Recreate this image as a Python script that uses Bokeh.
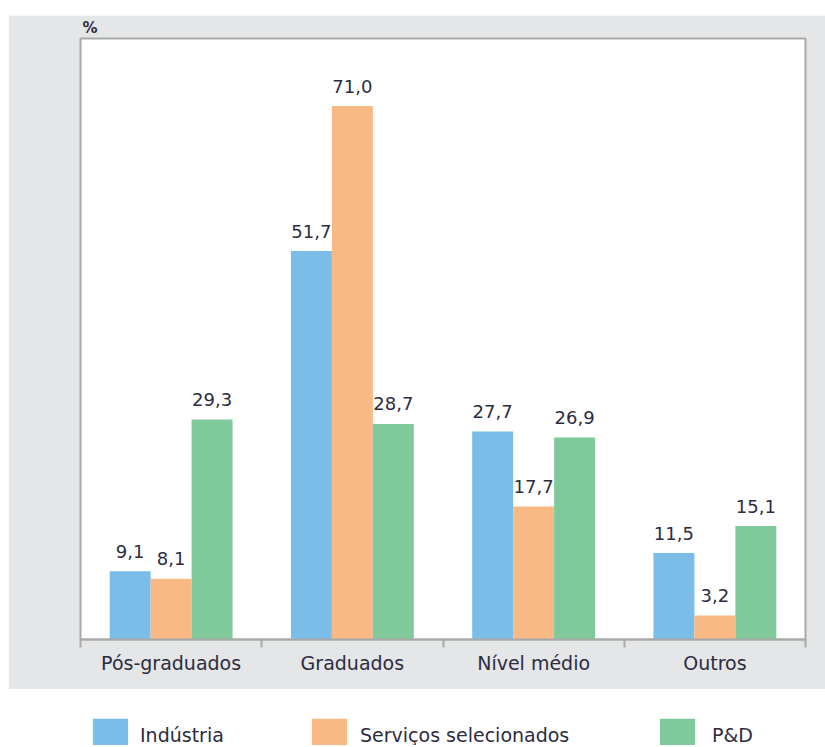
from bokeh.plotting import figure
from bokeh.models import (ColumnDataSource, Range1d, FixedTicker, Legend,
                          LegendItem)
from bokeh.layouts import column
from bokeh.transform import dodge
from bokeh.embed import file_html
from bokeh.resources import INLINE

# ---- data ----
categories = ["Pós-graduados", "Graduados", "Nível médio", "Outros"]
series_names = ["Indústria", "Serviços selecionados", "P&D"]
industria = [9.1, 51.7, 27.7, 11.5]
servicos = [8.1, 71.0, 17.7, 3.2]
pd_vals = [29.3, 28.7, 26.9, 15.1]
y_max = 80

colors = ["#79bde8", "#f8b985", "#80c99b"]
FONT = "DejaVu Sans"
TXT = "#2c2c40"

def fmt(v):
    return f"{v:.1f}".replace(".", ",")

centers = [i + 0.5 for i in range(len(categories))]
src = ColumnDataSource(dict(
    x=centers,
    ind=industria, ser=servicos, pdv=pd_vals,
    ind_l=[fmt(v) for v in industria],
    ser_l=[fmt(v) for v in servicos],
    pdv_l=[fmt(v) for v in pd_vals],
))

p = figure(width=817, height=674, output_backend="svg", toolbar_location=None,
           x_range=Range1d(0, len(categories)), y_range=Range1d(0, y_max),
           min_border_left=72, min_border_right=20, min_border_top=23,
           min_border_bottom=50)
p.background_fill_color = "white"
p.border_fill_color = "#e5e6e7"
p.outline_line_color = "#a9a9a9"
p.outline_line_width = 2
p.xgrid.visible = False
p.ygrid.visible = False
p.yaxis.visible = False

p.title.text = "%"
p.title.align = "left"
p.title.offset = 2
p.title.standoff = 3
p.title.text_font = FONT
p.title.text_font_size = "15px"
p.title.text_font_style = "bold"
p.title.text_color = TXT

w = 0.226
cols = [("ind", "ind_l"), ("ser", "ser_l"), ("pdv", "pdv_l")]
offs = [-w, 0.0, w]
for (vc, lc), off, c in zip(cols, offs, colors):
    p.vbar(x=dodge("x", off), top=vc, width=w, bottom=0, source=src,
           fill_color=c, line_color=None)
    p.text(x=dodge("x", off), y=vc, text=lc, source=src,
           text_align="center", text_baseline="alphabetic", y_offset=-20,
           text_font={"value": FONT}, text_font_size="18px", text_color=TXT)

ax = p.xaxis[0]
ax.ticker = FixedTicker(ticks=centers, minor_ticks=list(range(len(categories) + 1)))
ax.major_label_overrides = {c: name for c, name in zip(centers, categories)}
ax.major_tick_line_color = None
ax.major_tick_out = 0
ax.major_tick_in = 0
ax.minor_tick_line_color = "#a9a9a9"
ax.minor_tick_line_width = 2
ax.minor_tick_out = 8
ax.minor_tick_in = 0
ax.axis_line_color = "#a9a9a9"
ax.axis_line_width = 2
ax.major_label_standoff = 4
ax.major_label_text_font = FONT
ax.major_label_text_font_size = "19px"
ax.major_label_text_color = TXT

# ---- legend figure ----
lg = figure(width=817, height=56, output_backend="svg", toolbar_location=None,
            x_range=Range1d(0, 1), y_range=Range1d(0, 1),
            x_axis_type=None, y_axis_type=None,
            min_border_left=72, min_border_right=20, min_border_top=0,
            min_border_bottom=0)
lg.background_fill_color = "white"
lg.border_fill_color = "white"
lg.outline_line_color = None
lg.xgrid.visible = False
lg.ygrid.visible = False
leg_x = [8, 227, 575]
leg_standoff = [8, 9, 13]
for name, c, lx, so in zip(series_names, colors, leg_x, leg_standoff):
    r = lg.vbar(x=[-10], top=[-2], bottom=[-3], width=0.0,
                fill_color=c, line_color=None)
    legend = Legend(items=[LegendItem(label=name, renderers=[r])],
                    orientation="horizontal", location=(lx, -11),
                    glyph_width=44, glyph_height=42, label_standoff=so,
                    padding=0, margin=0, border_line_color=None,
                    background_fill_alpha=0, label_text_font=FONT,
                    label_text_font_size="19px", label_text_color=TXT,
                    label_height=42)
    lg.add_layout(legend)

layout = column(p, lg, spacing=0, margin=(15, 0, 0, 8))
open("out.html", "w").write(file_html(layout, INLINE))
